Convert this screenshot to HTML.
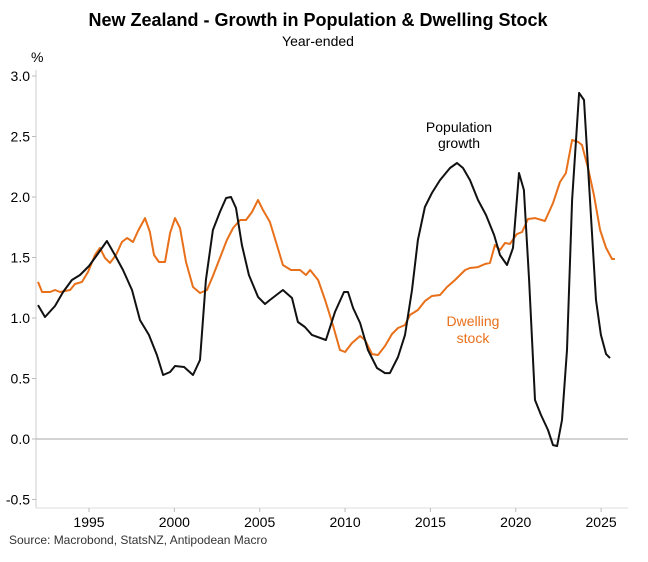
<!DOCTYPE html>
<html><head><meta charset="utf-8"><style>
body{margin:0;background:#fff;}
svg text{font-family:"Liberation Sans",Arial,sans-serif;}
</style></head><body>
<svg width="648" height="557" viewBox="0 0 648 557">
<text x="318" y="26" text-anchor="middle" font-size="18" font-weight="bold" fill="#000">New Zealand - Growth in Population &amp; Dwelling Stock</text>
<text x="318" y="46" text-anchor="middle" font-size="14" fill="#000">Year-ended</text>
<text x="31" y="62" font-size="14" fill="#000">%</text>
<g id="axes"></g>
<g id="series"></g>
<text x="459" y="132" text-anchor="middle" font-size="14" fill="#000">Population</text>
<text x="459" y="148" text-anchor="middle" font-size="14" fill="#000">growth</text>
<text x="473" y="326" text-anchor="middle" font-size="14" fill="#e8701a">Dwelling</text>
<text x="473" y="343" text-anchor="middle" font-size="14" fill="#e8701a">stock</text>
<text x="9" y="544" font-size="12" fill="#333">Source: Macrobond, StatsNZ, Antipodean Macro</text>
</svg>
<script>
const yTicks=[-0.5,0,0.5,1.0,1.5,2.0,2.5,3.0];
const xTicks=[1995,2000,2005,2010,2015,2020,2025];
const popX=[38,45,55,63,72,80,89,97,107,115,123,132,140,149,157,163,170,175,184,193,200,206,213,220,226,231,236,242,249,258,265,270,283,292,298,305,312,326,335,344,348,353,360,368,377,385,390,398,405,412,418,425,432,440,450,457,463,470,478,486,494,500,507,513,519,524,529,535,541,548,553,557,562,567,572,579,584,590,596,601,606,610];
const popY=[305,317,306,292,280,275,266,255,241,255,270,290,320,335,355,375,372,366,367,375,360,280,230,212,198,197,208,245,275,297,304,300,290,298,322,327,335,340,312,292,292,308,323,350,368,373,373,357,335,290,240,207,193,180,168,163,168,180,200,215,235,255,265,248,173,190,280,400,415,430,445,446,420,350,200,93,100,200,300,335,354,358];
const dwX=[38,42,50,55,60,70,75,82,88,95,100,105,110,116,122,127,133,138,145,150,154,159,165,170,175,180,186,193,200,207,213,220,227,233,240,246,252,258,263,270,277,283,291,300,306,310,318,325,333,340,345,352,360,365,372,378,385,392,398,405,410,418,425,432,440,447,455,465,470,478,485,490,495,500,505,510,517,522,528,535,545,553,560,566,572,578,582,588,594,600,606,612,615];
const dwY=[282,292,292,290,292,290,284,282,272,255,248,258,263,255,242,238,242,231,218,232,255,262,262,233,218,228,262,287,293,290,276,258,240,228,220,220,212,200,210,222,245,265,270,270,275,270,280,300,325,350,352,343,336,340,354,355,346,334,328,325,315,310,301,296,295,287,280,270,268,267,264,263,245,250,243,244,234,232,219,218,221,203,182,173,140,142,145,168,195,230,248,259,259];
// convert picture readings into data (year, %)
const popYears=popX.map(x=>+(1995+(x-89)/17.07).toFixed(2));
const popVals=popY.map(y=>+((439-y)/121).toFixed(3));
const dwYears=dwX.map(x=>+(1995+(x-89)/17.07).toFixed(2));
const dwVals=dwY.map(y=>+((439-y)/121).toFixed(3));
const NS="http://www.w3.org/2000/svg";
const X=yr=>89+(yr-1995)*17.07;
const Y=v=>439-v*121;
const axes=document.getElementById('axes'),ser=document.getElementById('series');
function mk(tag,attrs,parent){const e=document.createElementNS(NS,tag);for(const k in attrs)e.setAttribute(k,attrs[k]);parent.appendChild(e);return e;}
const yl=mk('line',{x1:36,y1:70,x2:36,y2:508,stroke:'#ccc','stroke-width':1},axes);


const xl=mk('line',{x1:36,y1:508,x2:628,y2:508,stroke:'#ddd','stroke-width':1},axes);


const zl=mk('line',{x1:36,y1:Y(0),x2:628,y2:Y(0),stroke:'#aaa','stroke-width':1},axes);


yTicks.forEach(v=>{
  const t=mk('line',{x1:32,y1:Y(v),x2:36,y2:Y(v),stroke:'#bbb'},axes);
  
  
  const l=mk('text',{x:30,y:Y(v)+5,'text-anchor':'end','font-size':14,fill:'#000'},axes);
  l.textContent=v.toFixed(1);
  
  
});
xTicks.forEach(yr=>{
  const t=mk('line',{x1:X(yr),y1:508,x2:X(yr),y2:512,stroke:'#bbb'},axes);
  
  
  const l=mk('text',{x:X(yr),y:527,'text-anchor':'middle','font-size':14,fill:'#000'},axes);
  l.textContent=yr;
  
  
});
function line(xs,vs,color,name){
  const d=xs.map((x,i)=>(i?'L':'M')+X(x).toFixed(1)+','+Y(vs[i]).toFixed(1)).join('');
  const p=mk('path',{d:d,fill:'none',stroke:color,'stroke-width':2,'stroke-linejoin':'round'},ser);
  
  
}
line(dwYears,dwVals,'#e8701a','dwelling-stock-line');
line(popYears,popVals,'#111','population-growth-line');
</script>
</body></html>
